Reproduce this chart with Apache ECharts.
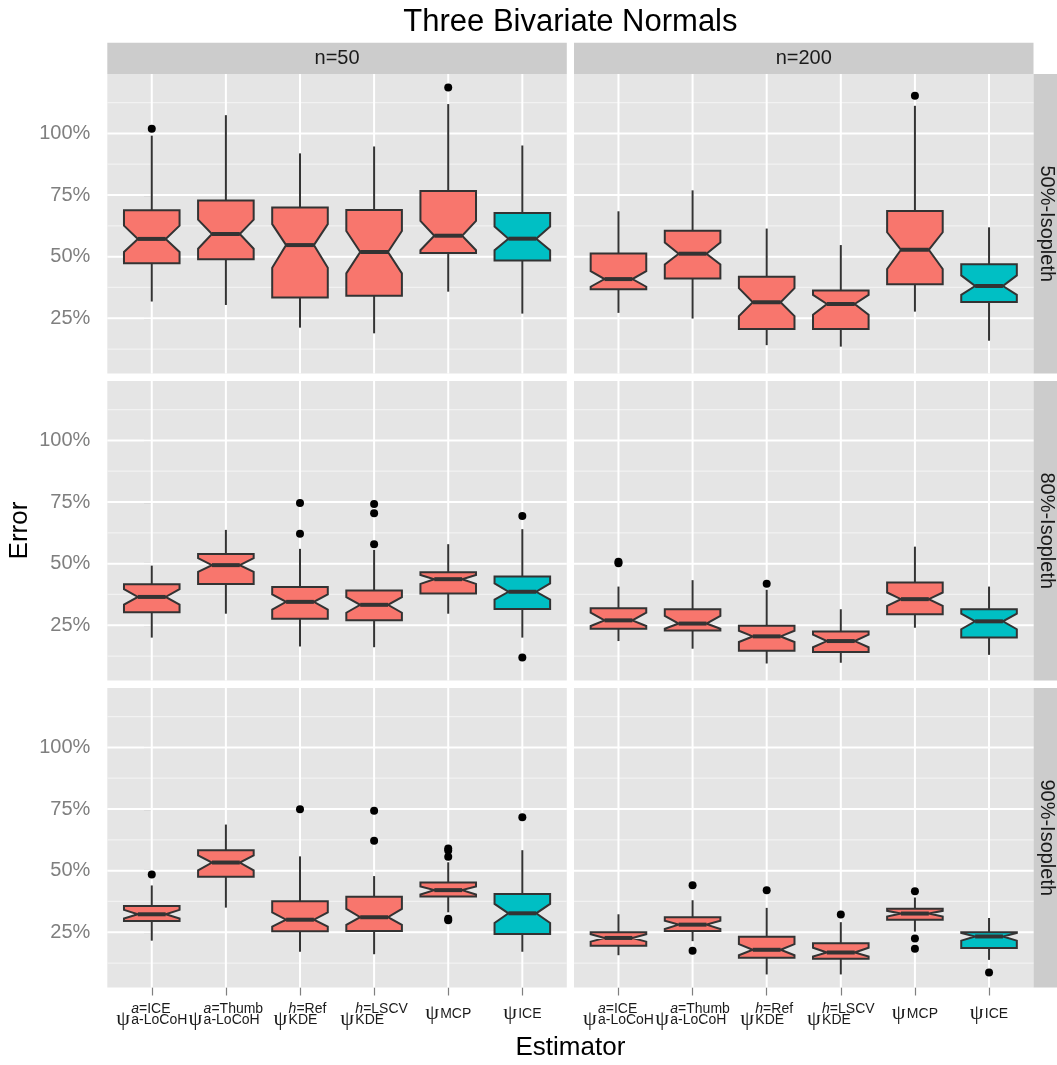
<!DOCTYPE html>
<html>
<head>
<meta charset="utf-8">
<script src="https://cdn.jsdelivr.net/npm/echarts@6/dist/echarts.min.js"></script>
<style>
  html, body { margin: 0; padding: 0; background: #ffffff; }
  #chart { width: 1057px; height: 1065px; }
</style>
</head>
<body>
<div id="chart"></div>
<script>
// ---- Facets ----
const sampleSizes = ['n=50', 'n=200'];
const isopleths = ['50%-Isopleth', '80%-Isopleth', '90%-Isopleth'];

// ---- Estimators (x categories): psi with optional superscript and a subscript ----
const supVar = ['a', 'a', 'h', 'h', '', ''];
const supVal = ['ICE', 'Thumb', 'Ref', 'LSCV', '', ''];
const psiSub = ['a-LoCoH', 'a-LoCoH', 'KDE', 'KDE', 'MCP', 'ICE'];
const fillGroup = [0, 0, 0, 0, 0, 1];

// ---- Y axis ticks (percent error) ----
const yTicks = [25, 50, 75, 100];
const yMinor = [12.5, 37.5, 62.5, 87.5, 112.5];
const yRange = [2.6, 124.1];

// ---- Box statistics: [lower whisker, Q1, notch low, median, notch high, Q3, upper whisker] ----
const iso50_n50 = [
  [31.8, 47.3, 51.9, 57.2, 62.6, 68.8, 99.1],
  [30.4, 48.9, 53.2, 59.2, 65.0, 72.8, 107.4],
  [21.2, 33.4, 45.5, 54.7, 63.2, 69.9, 91.9],
  [18.9, 34.1, 43.2, 51.9, 60.4, 68.9, 94.7],
  [35.8, 51.5, 52.6, 58.5, 64.5, 76.6, 111.9],
  [26.9, 48.4, 52.6, 57.3, 62.2, 67.7, 95.1]
];
const iso50_n200 = [
  [27.2, 36.8, 37.8, 40.9, 44.1, 51.3, 68.4],
  [24.9, 41.1, 46.8, 51.2, 55.7, 60.5, 76.9],
  [14.1, 20.7, 25.9, 31.5, 37.2, 41.8, 61.4],
  [13.5, 20.7, 26.4, 30.8, 34.5, 36.3, 54.7],
  [27.7, 38.8, 45.0, 52.8, 59.9, 68.5, 111.2],
  [15.9, 31.6, 34.5, 38.1, 42.4, 46.9, 61.9]
];
const iso80_n50 = [
  [20.0, 30.3, 33.4, 36.5, 39.7, 41.6, 49.2],
  [29.7, 41.7, 46.7, 49.4, 52.2, 53.9, 63.7],
  [16.4, 27.6, 31.4, 34.5, 37.5, 40.5, 56.0],
  [16.1, 27.0, 30.1, 33.3, 36.4, 39.1, 55.6],
  [29.7, 37.9, 41.8, 43.7, 45.4, 46.5, 57.9],
  [20.0, 31.6, 35.4, 38.6, 42.0, 44.8, 64.0]
];
const iso80_n200 = [
  [18.6, 23.6, 24.7, 27.0, 30.1, 31.9, 40.7],
  [15.5, 22.9, 23.6, 25.7, 28.8, 31.5, 43.3],
  [9.5, 14.7, 18.2, 20.5, 22.8, 24.8, 39.4],
  [9.8, 14.2, 16.1, 18.6, 21.2, 22.5, 31.5],
  [24.0, 29.5, 32.9, 35.6, 38.3, 42.4, 56.9],
  [13.0, 20.0, 23.4, 26.6, 29.7, 31.5, 40.7]
];
const iso90_n50 = [
  [21.6, 29.6, 30.6, 32.3, 34.1, 35.7, 44.0],
  [35.0, 47.5, 50.1, 53.3, 56.2, 58.3, 68.7],
  [17.1, 25.4, 27.3, 30.1, 33.1, 37.6, 55.8],
  [16.1, 25.5, 28.0, 31.1, 34.5, 39.4, 47.8],
  [33.1, 39.5, 40.3, 42.1, 43.6, 45.2, 53.4],
  [17.1, 24.3, 28.8, 32.7, 36.5, 40.5, 58.3]
];
const iso90_n200 = [
  [15.7, 19.5, 21.2, 22.7, 24.2, 25.0, 32.3],
  [21.4, 25.5, 26.3, 28.1, 29.7, 31.1, 38.0],
  [7.9, 14.7, 15.7, 17.9, 20.2, 23.2, 34.9],
  [7.9, 14.3, 15.2, 16.8, 18.7, 20.6, 29.1],
  [25.3, 30.1, 31.4, 32.6, 33.7, 34.5, 39.1],
  [13.8, 18.6, 21.6, 23.3, 24.7, 25.0, 30.8]
];

// ---- Outliers: [estimator index, error %] ----
const out50_n50 = [[0, 101.9], [4, 118.6]];
const out50_n200 = [[4, 115.3]];
const out80_n50 = [[2, 74.6], [2, 62.1], [3, 74.2], [3, 70.5], [3, 57.9], [5, 69.3], [5, 11.9]];
const out80_n200 = [[0, 50.2], [0, 50.8], [2, 41.8]];
const out90_n50 = [[0, 48.4], [2, 74.9], [3, 74.3], [3, 62.1], [4, 59.0], [4, 58.2], [4, 55.6], [4, 30.5], [4, 29.9], [5, 71.7]];
const out90_n200 = [[1, 44.1], [1, 17.5], [2, 42.1], [3, 32.2], [4, 41.6], [4, 22.5], [4, 18.3], [5, 8.7]];

const panelStats = [[iso50_n50, iso50_n200], [iso80_n50, iso80_n200], [iso90_n50, iso90_n200]];
const panelOutliers = [[out50_n50, out50_n200], [out80_n50, out80_n200], [out90_n50, out90_n200]];

// ---- Styling / layout ----
const FONT = '"Liberation Sans", Arial, Helvetica, sans-serif';
const PSI_FONT = '"Liberation Serif", "DejaVu Serif", serif';
const fills = ['#F8766D', '#00BFC4'];
const OUTLINE = '#333333';
const panelLeft = [107.3, 574];
const panelWidth = 459.5;
const panelTop = [74, 381, 688];
const panelHeight = 299.5;
const stripSize = 31.3;
const estimatorIdx = [0, 1, 2, 3, 4, 5];

function drawGridLines(params, api) {
  const cs = params.coordSys;
  const kind = api.value(2);
  if (kind === 2) {
    const x = api.coord([api.value(0), yRange[0]])[0];
    return { type: 'line', silent: true,
      shape: { x1: x, y1: cs.y, x2: x, y2: cs.y + cs.height },
      style: { stroke: '#FFFFFF', lineWidth: 2 } };
  }
  const y = api.coord([0, api.value(1)])[1];
  return { type: 'line', silent: true,
    shape: { x1: cs.x, y1: y, x2: cs.x + cs.width, y2: y },
    style: { stroke: kind === 0 ? '#FFFFFF' : '#F2F2F2', lineWidth: kind === 0 ? 2 : 1.2 } };
}

function drawBox(params, api) {
  const i = api.value(0);
  const lo = api.value(1), q1 = api.value(2), nlo = api.value(3), med = api.value(4),
        nhi = api.value(5), q3 = api.value(6), hi = api.value(7);
  const Y = v => api.coord([i, v])[1];
  const cx = api.coord([i, med])[0];
  const half = api.size([0.75, 0])[0] / 2;
  const nh = half / 2;
  const pts = [
    [cx - half, Y(q3)], [cx + half, Y(q3)], [cx + half, Y(nhi)], [cx + nh, Y(med)],
    [cx + half, Y(nlo)], [cx + half, Y(q1)], [cx - half, Y(q1)], [cx - half, Y(nlo)],
    [cx - nh, Y(med)], [cx - half, Y(nhi)]
  ];
  const fill = fills[fillGroup[i]];
  return {
    type: 'group',
    children: [
      { type: 'line', shape: { x1: cx, y1: Y(hi), x2: cx, y2: Y(q3) }, style: { stroke: OUTLINE, lineWidth: 2 } },
      { type: 'line', shape: { x1: cx, y1: Y(q1), x2: cx, y2: Y(lo) }, style: { stroke: OUTLINE, lineWidth: 2 } },
      { type: 'polygon', shape: { points: pts }, style: { fill: fill, stroke: OUTLINE, lineWidth: 2, lineJoin: 'miter' } },
      { type: 'line', shape: { x1: cx - nh, y1: Y(med), x2: cx + nh, y2: Y(med) }, style: { stroke: OUTLINE, lineWidth: 4 } }
    ]
  };
}

function estimatorLabel(v) {
  const i = Math.round(v);
  if (supVar[i]) {
    return '{sp| }{supv|' + supVar[i] + '}{sup|=' + supVal[i] + '}\n{psi|ψ}{sub|' + psiSub[i] + '}';
  }
  return '{psi1|ψ}{sub1|' + psiSub[i] + '}';
}

const labelRich = {
  sp:   { width: 15, lineHeight: 12, align: 'left', fontSize: 14 },
  supv: { fontSize: 14, fontStyle: 'italic', lineHeight: 12, align: 'left', fontFamily: FONT, color: '#1A1A1A' },
  sup:  { fontSize: 14, lineHeight: 12, align: 'left', fontFamily: FONT, color: '#1A1A1A' },
  psi:  { fontSize: 22, width: 15, lineHeight: 8, align: 'left', fontFamily: PSI_FONT, color: '#1A1A1A' },
  sub:  { fontSize: 14, lineHeight: 8, align: 'left', fontFamily: FONT, color: '#1A1A1A', padding: [2, 0, 0, 0] },
  psi1: { fontSize: 22, width: 15, lineHeight: 19, align: 'left', fontFamily: PSI_FONT, color: '#1A1A1A' },
  sub1: { fontSize: 14, lineHeight: 19, align: 'left', fontFamily: FONT, color: '#1A1A1A', padding: [3, 0, 0, 0] }
};

const grids = [], xAxes = [], yAxes = [], series = [];
const gridLineData = []
  .concat(yMinor.map(v => [0, v, 1]))
  .concat(yTicks.map(v => [0, v, 0]))
  .concat(estimatorIdx.map(i => [i, yRange[0], 2]));

for (let r = 0; r < 3; r++) {
  for (let c = 0; c < 2; c++) {
    const gi = r * 2 + c;
    const bottom = r === 2, left = c === 0;
    grids.push({
      left: panelLeft[c], top: panelTop[r], width: panelWidth, height: panelHeight,
      show: true, backgroundColor: '#E5E5E5', borderWidth: 0
    });
    xAxes.push({
      type: 'value', gridIndex: gi, min: -0.6, max: 5.6,
      axisLine: { show: false }, splitLine: { show: false },
      axisTick: { show: bottom, customValues: estimatorIdx, length: 8, lineStyle: { color: '#7F7F7F', width: 1.2 } },
      axisLabel: { show: bottom, customValues: estimatorIdx, margin: 16, formatter: estimatorLabel, rich: labelRich, color: '#1A1A1A' }
    });
    yAxes.push({
      type: 'value', gridIndex: gi, min: yRange[0], max: yRange[1],
      axisLine: { show: false }, splitLine: { show: false },
      axisTick: { show: left, customValues: yTicks, length: 8, lineStyle: { color: '#7F7F7F', width: 1.2 } },
      axisLabel: { show: left, customValues: yTicks, margin: 17, formatter: '{value}%', color: '#7F7F7F', fontSize: 20, fontFamily: FONT }
    });
    series.push({
      type: 'custom', name: 'grid-' + gi, xAxisIndex: gi, yAxisIndex: gi, z: 1, silent: true,
      renderItem: drawGridLines, data: gridLineData
    });
    series.push({
      type: 'custom', name: isopleths[r] + ' ' + sampleSizes[c], xAxisIndex: gi, yAxisIndex: gi, z: 3,
      renderItem: drawBox,
      encode: { x: 0, y: [1, 2, 3, 4, 5, 6, 7] },
      data: panelStats[r][c].map((s, i) => [i].concat(s))
    });
    series.push({
      type: 'scatter', name: 'outliers-' + gi, xAxisIndex: gi, yAxisIndex: gi, z: 4,
      symbol: 'circle', symbolSize: 8, itemStyle: { color: '#000000', opacity: 1 },
      data: panelOutliers[r][c]
    });
  }
}

// Facet strips and titles
const graphics = [];
for (let c = 0; c < 2; c++) {
  graphics.push({ type: 'rect', shape: { x: panelLeft[c], y: panelTop[0] - stripSize, width: panelWidth, height: stripSize }, style: { fill: '#CCCCCC' } });
  graphics.push({ type: 'text', x: panelLeft[c] + panelWidth / 2, y: panelTop[0] - stripSize / 2,
    style: { text: sampleSizes[c], fontSize: 20, fontFamily: FONT, fill: '#1A1A1A', align: 'center', verticalAlign: 'middle' } });
}
for (let r = 0; r < 3; r++) {
  const sx = panelLeft[1] + panelWidth;
  graphics.push({ type: 'rect', shape: { x: sx, y: panelTop[r], width: 1057 - sx, height: panelHeight }, style: { fill: '#CCCCCC' } });
  graphics.push({ type: 'text', x: sx + 13, y: panelTop[r] + panelHeight / 2, rotation: -Math.PI / 2,
    style: { text: isopleths[r], fontSize: 20, fontFamily: FONT, fill: '#1A1A1A', align: 'center', verticalAlign: 'middle' } });
}
graphics.push({ type: 'text', x: 570.4, y: 22,
  style: { text: 'Three Bivariate Normals', fontSize: 31, fontFamily: FONT, fill: '#000000', align: 'center', verticalAlign: 'middle' } });
graphics.push({ type: 'text', x: 570.4, y: 1048,
  style: { text: 'Estimator', fontSize: 26, fontFamily: FONT, fill: '#000000', align: 'center', verticalAlign: 'middle' } });
graphics.push({ type: 'text', x: 20, y: 530.5, rotation: Math.PI / 2,
  style: { text: 'Error', fontSize: 26, fontFamily: FONT, fill: '#000000', align: 'center', verticalAlign: 'middle' } });

const chart = echarts.init(document.getElementById('chart'), null, { renderer: 'canvas' });
chart.setOption({
  animation: false,
  backgroundColor: '#FFFFFF',
  textStyle: { fontFamily: FONT },
  grid: grids,
  xAxis: xAxes,
  yAxis: yAxes,
  series: series,
  graphic: graphics
});
</script>
</body>
</html>
